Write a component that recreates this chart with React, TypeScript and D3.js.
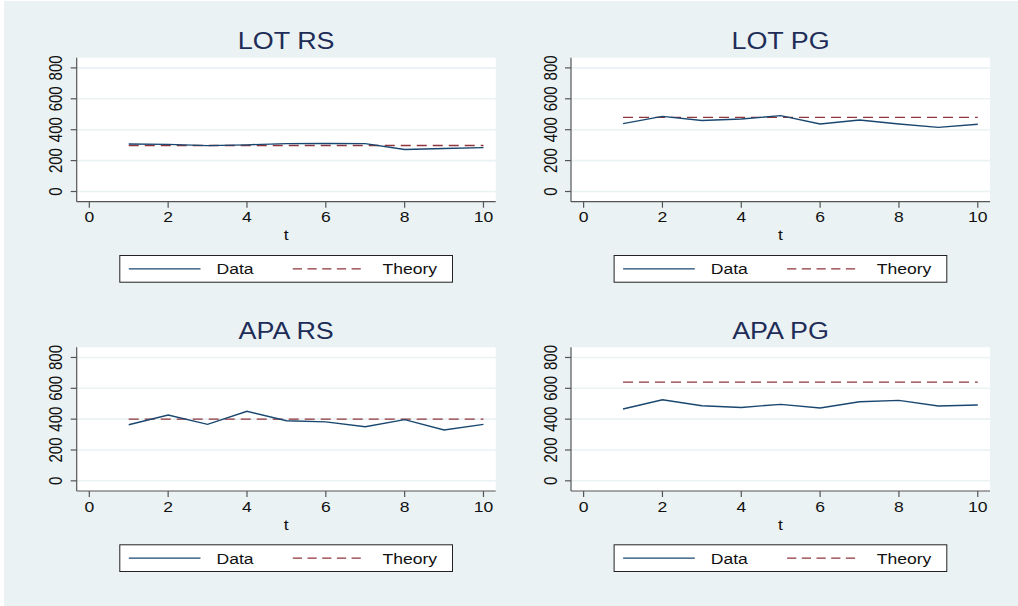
import React from "react";
import * as d3 from "d3";

const t = [1, 2, 3, 4, 5, 6, 7, 8, 9, 10];
const titles = ["LOT RS", "LOT PG", "APA RS", "APA PG"];
const lotRsData = [307, 305, 297, 302, 310, 311, 310, 272, 278, 284];
const lotPgData = [439, 486, 460, 469, 491, 437, 463, 437, 415, 435];
const apaRsData = [364, 427, 366, 451, 390, 382, 351, 397, 330, 366];
const apaPgData = [466, 526, 487, 476, 496, 472, 513, 522, 485, 492];
const theoryValues = [298, 480, 400, 640];
const xTicks = [0, 2, 4, 6, 8, 10];
const yTicks = [0, 200, 400, 600, 800];
const legendLabels = ["Data", "Theory"];

const dataSeries = [lotRsData, lotPgData, apaRsData, apaPgData];

const W = 1018;
const H = 606;
const FONT = "'Liberation Sans', Arial, Helvetica, sans-serif";
const SX = 1.17;
const NAVY = "#1a476f";
const MAROON = "#90353b";
const BG = "#eaf2f3";

const panelBoxes = [
  { x0: 76.7, x1: 495.7, y0: 57.7, y1: 201.7 },
  { x0: 571, x1: 990, y0: 57.7, y1: 201.7 },
  { x0: 76.7, x1: 495.7, y0: 347.3, y1: 491 },
  { x0: 571, x1: 990, y0: 347.3, y1: 491 },
];

function SText({ x, y, size, children, anchor = "middle", rotate = 0, fill = "#111" }: any) {
  return (
    <text
      transform={`translate(${x},${y}) scale(${SX},1)${rotate ? ` rotate(${rotate})` : ""}`}
      fontFamily={FONT}
      fontSize={size}
      textAnchor={anchor}
      fill={fill}
    >
      {children}
    </text>
  );
}

function Panel({ idx }: { idx: number }) {
  const b = panelBoxes[idx];
  const x = d3.scaleLinear().domain([-0.32, 10.31]).range([b.x0, b.x1]);
  const y = d3.scaleLinear().domain([-66, 866]).range([b.y1, b.y0]);
  const data = dataSeries[idx];
  const theory = theoryValues[idx];
  const line = d3
    .line<number>()
    .x((_, i) => x(t[i]))
    .y((d) => y(d));
  const theoryLine = line(t.map(() => theory)) || "";
  const cx = (b.x0 + b.x1) / 2;

  const ly0 = b.y1 + 53.8;
  const ly1 = b.y1 + 80.5;
  const lx0 = cx - 166.4;
  const lmid = (ly0 + ly1) / 2;

  return (
    <g>
      <SText x={cx} y={b.y0 - 8.4} size={23} fill="#1e2d58">
        {titles[idx]}
      </SText>
      <rect x={b.x0} y={b.y0} width={b.x1 - b.x0} height={b.y1 - b.y0} fill="#fff" />
      {yTicks.map((v) => (
        <line key={v} x1={b.x0} x2={b.x1} y1={y(v)} y2={y(v)} stroke={BG} strokeWidth={1.6} />
      ))}
      <path d={theoryLine} fill="none" stroke={MAROON} strokeWidth={1.4} strokeDasharray="10,6" />
      <path d={line(data) || ""} fill="none" stroke={NAVY} strokeWidth={1.4} />
      <line x1={b.x0} x2={b.x0} y1={b.y0} y2={b.y1} stroke="#555" strokeWidth={1.2} />
      <line x1={b.x0} x2={b.x1} y1={b.y1} y2={b.y1} stroke="#555" strokeWidth={1.2} />
      {yTicks.map((v) => (
        <g key={v}>
          <line x1={b.x0 - 6} x2={b.x0} y1={y(v)} y2={y(v)} stroke="#555" strokeWidth={1.2} />
          <SText x={b.x0 - 14.5} y={y(v)} size={15} rotate={-90}>
            {v}
          </SText>
        </g>
      ))}
      {xTicks.map((v) => (
        <g key={v}>
          <line x1={x(v)} x2={x(v)} y1={b.y1} y2={b.y1 + 6} stroke="#555" strokeWidth={1.2} />
          <SText x={x(v)} y={b.y1 + 20.5} size={15}>
            {v}
          </SText>
        </g>
      ))}
      <SText x={cx} y={b.y1 + 38.5} size={15}>
        t
      </SText>
      <rect x={lx0} y={ly0} width={332.7} height={ly1 - ly0} fill="#fff" stroke="#222" strokeWidth={1} />
      <line x1={lx0 + 9} x2={lx0 + 80.7} y1={lmid} y2={lmid} stroke={NAVY} strokeWidth={1.4} />
      <SText x={lx0 + 96.7} y={lmid + 5.5} size={15} anchor="start">
        {legendLabels[0]}
      </SText>
      <line
        x1={lx0 + 173}
        x2={lx0 + 243}
        y1={lmid}
        y2={lmid}
        stroke={MAROON}
        strokeWidth={1.4}
        strokeDasharray="9.2,5.5"
      />
      <SText x={lx0 + 262.7} y={lmid + 5.5} size={15} anchor="start">
        {legendLabels[1]}
      </SText>
    </g>
  );
}

export default function App() {
  return (
    <div style={{ position: "fixed", left: 0, top: 0 }}>
      <svg width={W} height={H} style={{ display: "block" }}>
        <rect x={0} y={0} width={W} height={H} fill="#fff" />
        <rect x={4} y={1} width={W - 4} height={H - 1} fill={BG} />
        {[0, 1, 2, 3].map((i) => (
          <Panel key={i} idx={i} />
        ))}
      </svg>
    </div>
  );
}
